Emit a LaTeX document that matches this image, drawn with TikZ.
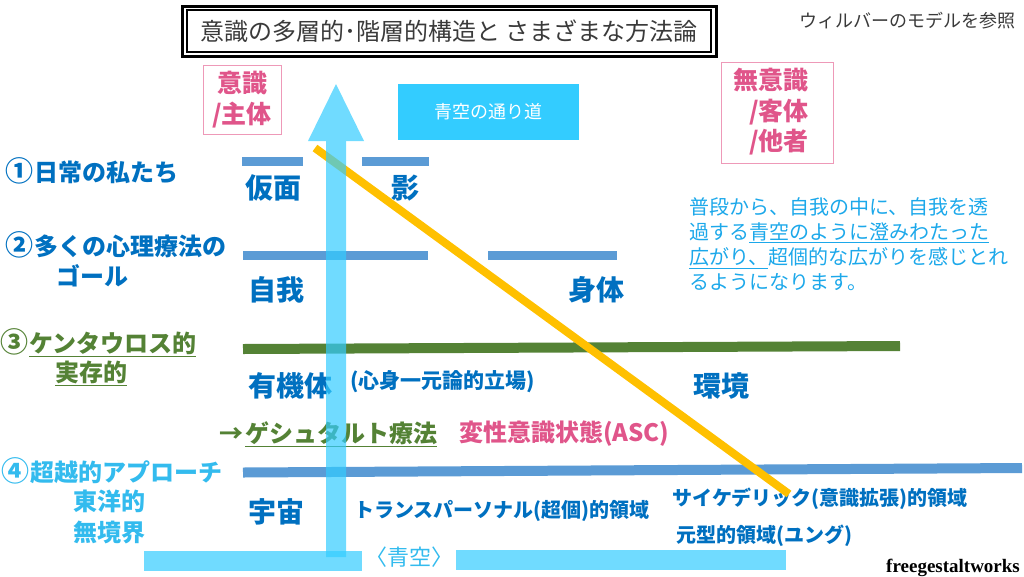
\documentclass[tikz,border=0pt]{standalone}
\usepackage{fontspec}
\setmainfont{Noto Sans CJK JP}
\newfontfamily\tms{Liberation Serif}
\definecolor{dblue}{HTML}{0070C0}
\definecolor{pinktext}{HTML}{E0558A}
\definecolor{pinkline}{HTML}{EE99B8}
\definecolor{grn}{HTML}{548235}
\definecolor{skytext}{HTML}{33BBEE}
\definecolor{paratext}{HTML}{1CA8EA}
\definecolor{barblue}{HTML}{5B9BD5}
\definecolor{orangec}{HTML}{FFC000}
\definecolor{skyfill}{HTML}{33CCFF}
\definecolor{titlegray}{HTML}{3A3A3A}
\newcommand{\circnum}[1]{{\fontsize{28}{28}\selectfont #1}\kern1pt}
\begin{document}
\begin{tikzpicture}[x=1pt,y=-1pt,
  lbl/.style={inner sep=0pt,anchor=west,font=\fontsize{24}{28}\selectfont\bfseries},
  rowlbl/.style={inner sep=0pt,anchor=west,text=dblue,font=\fontsize{28}{32}\selectfont\bfseries},
  smalllbl/.style={inner sep=0pt,anchor=west,text=dblue,font=\fontsize{20}{24}\selectfont\bfseries},
  pinkbox/.style={draw=pinkline,line width=1pt},
  pinklbl/.style={inner sep=0pt,text=pinktext,font=\fontsize{25}{30.5}\selectfont\bfseries},
  skybar/.style={line width=20pt,draw=skyfill,opacity=0.7}]
\useasboundingbox (0,0) rectangle (1024,576);
% layers
\foreach \xa/\ya/\xb/\yb/\w/\c in {242/161.5/303/161.5/9/barblue,362/161.5/429/161.5/9/barblue,
  243/255.5/428/255.5/9/barblue,488/255.5/617/255.5/9/barblue,
  243/349/900/346/10/grn,243/472.5/1022/468/10/barblue}
  \draw[line width=\w pt,draw=\c] (\xa,\ya) -- (\xb,\yb);
\draw[skybar] (144,561) -- (362,561);
\draw[skybar] (456,560) -- (786,560);
% title
\node[draw,line width=1.2pt,minimum width=524pt,minimum height=42pt,text=titlegray,
  font=\fontsize{24}{28}\selectfont] (title) at (449,31) {意識の多層的･階層的構造と さまざまな方法論};
\node[draw,line width=3pt,minimum width=534pt,minimum height=50pt] (titleframe) at (title) {};
\node[inner sep=0pt,anchor=west,text=titlegray,font=\fontsize{18}{22}\selectfont] (wilber) at (799,21) {ウィルバーのモデルを参照};
\node[pinkbox,minimum width=78pt,minimum height=69pt] (subjbox) at (242,99.5) {};
\node[pinklbl,align=center] (subj) at (subjbox) {意識\\/主体};
\node[pinkbox,minimum width=112pt,minimum height=101pt] (objbox) at (777,112.5) {};
\node[pinklbl,align=right,anchor=east] (obj) at (809,112) {無意識\\/客体\\/他者};
\node[fill=skyfill,minimum width=181pt,minimum height=56pt,text=white,
  font=\fontsize{18}{22}\selectfont] (skyway) at (488.5,112) {青空の通り道};
% left column
\node[lbl,text=dblue] (l1) at (5,171) {\circnum{①}日常の私たち};
\node[lbl,text=dblue] (l2) at (5,245) {\circnum{②}多くの心理療法の};
\node[lbl,text=dblue] (l2b) at (56,276) {ゴール};
\node[lbl,text=grn] (l3) at (0,343) {\circnum{③}\underline{ケンタウロス的}};
\node[lbl,text=grn] (l3b) at (55,373) {\underline{実存的}};
\node[lbl,text=grn] (gestalt) at (219,434) {→\kern2pt\underline{ゲシュタルト療法}};
\node[lbl,text=pinktext] (asc) at (459,434) {変性意識状態(ASC)};
\node[lbl,text=skytext] (l4) at (1,471) {\circnum{④}超越的アプローチ};
\node[lbl,text=skytext] (l4b) at (73,501) {東洋的};
\node[lbl,text=skytext] (l4c) at (73,532) {無境界};
% rows
\node[rowlbl] (mask) at (245,188) {仮面};
\node[rowlbl] (shadow) at (391,188) {影};
\node[rowlbl] (ego) at (248,290) {自我};
\node[rowlbl] (body) at (568,290) {身体};
\node[rowlbl] (organism) at (248,386) {有機体};
\node[smalllbl,font=\fontsize{21}{24}\selectfont\bfseries] (monism) at (350,382) {(心身一元論的立場)};
\node[rowlbl] (env) at (693,386) {環境};
\node[rowlbl] (cosmos) at (248,512) {宇宙};
\node[smalllbl] (transp) at (354,511) {トランスパーソナル(超個)的領域};
\node[smalllbl] (psyche) at (672,499) {サイケデリック(意識拡張)的領域};
\node[smalllbl] (archetype) at (676,536) {元型的領域(ユング)};
\node[inner sep=0pt,anchor=north west,align=left,text=paratext,
  font=\fontsize{20}{25.3}\selectfont] (note) at (689,197)
  {普段から、自我の中に、自我を透\\過する\underline{青空のように澄みわたった}\\\underline{広がり、}超個的な広がりを感じとれ\\るようになります。};
\node[inner sep=0pt,anchor=base west,font=\tms\bfseries\fontsize{19}{21}\selectfont] (credit) at (886,572) {freegestaltworks};
\node[inner sep=0pt,text=skytext,font=\fontsize{22}{24}\selectfont] (aozora) at (409,557) {〈青空〉};
% orange line and arrow
\coordinate (o1) at (315,148);
\coordinate (o2) at (789,494);
\draw[line width=8pt,draw=orangec] (o1) -- (o2);
\coordinate (skybot) at (336,557);
\coordinate (skyneck) at (336,141);
\coordinate (skytop) at (336,84);
\begin{scope}[transparency group,opacity=0.7]
\draw[line width=20pt,draw=skyfill] (skybot) -- (skyneck);
\fill[skyfill] (skytop) -- ([xshift=-28pt]skyneck) -- ([xshift=28pt]skyneck) -- cycle;
\end{scope}
\end{tikzpicture}
\end{document}
